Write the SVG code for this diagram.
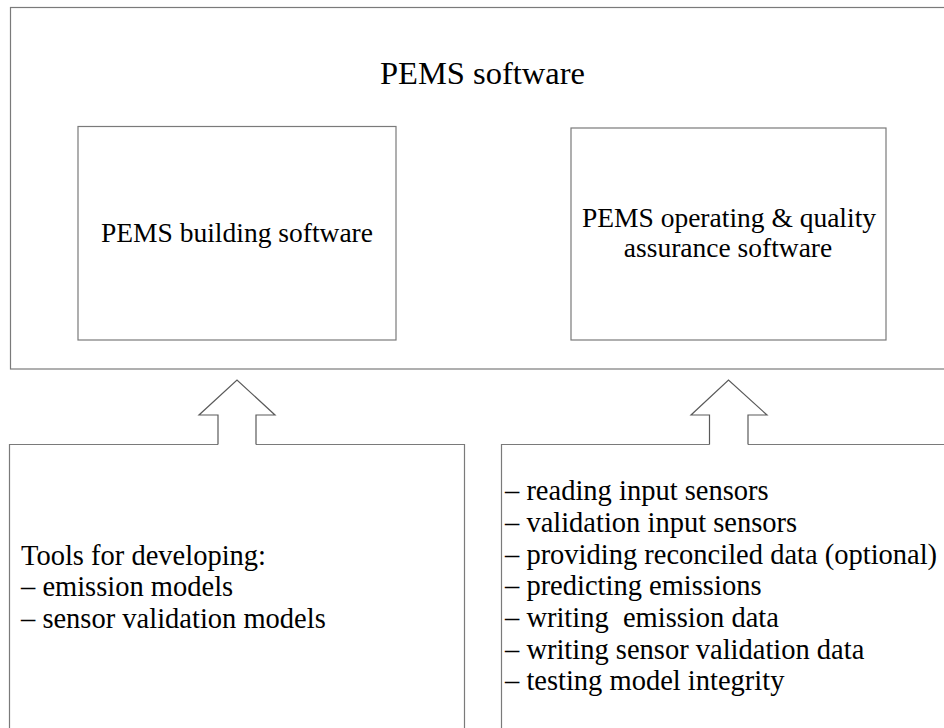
<svg xmlns="http://www.w3.org/2000/svg" width="944" height="728" viewBox="0 0 944 728">
<style>
.box{fill:none;stroke:#7a7a7a;stroke-width:1.2}
.arrow{fill:none;stroke:#5a5a5a;stroke-width:1.2;stroke-linejoin:miter}
.c{text-anchor:middle}
.t{font-size:32.5px}
.m{font-size:27.5px}
.l{font-size:28.5px}
</style>
<rect width="944" height="728" fill="#fff"/>
<g font-family="'Liberation Serif', serif" fill="#000">
<g id="pems-software">
<rect class="box" x="10.5" y="7.5" width="945" height="361.5"/>
<text class="c t" x="482.5" y="84.3">PEMS software</text>
</g>
<g id="building-software">
<rect class="box" x="78" y="126.5" width="318" height="213.5"/>
<text class="c m" x="237" y="241.7">PEMS building software</text>
</g>
<g id="operating-software">
<rect class="box" x="571" y="128" width="315" height="212"/>
<text class="c m" x="729" y="226.7">PEMS operating &amp; quality</text>
<text class="c m" x="728" y="256.7">assurance software</text>
</g>
<g id="tools-box">
<path class="box" d="M218 444.5 H9.5 V740 M464.5 740 V444.5 H256"/>
<text class="l" x="21" y="565">Tools for developing:</text>
<text class="l" x="21" y="596">– emission models</text>
<text class="l" x="21" y="628">– sensor validation models</text>
</g>
<g id="operations-box">
<path class="box" d="M709.5 444.5 H501.5 V740 M748 444.5 H955"/>
<text class="l" x="505" y="500">– reading input sensors</text>
<text class="l" x="505" y="532">– validation input sensors</text>
<text class="l" x="505" y="563.5">– providing reconciled data (optional)</text>
<text class="l" x="505" y="595">– predicting emissions</text>
<text class="l" x="505" y="627" xml:space="preserve">– writing  emission data</text>
<text class="l" x="505" y="658.5">– writing sensor validation data</text>
<text class="l" x="505" y="690">– testing model integrity</text>
</g>
</g>
<g id="connectors">
<polyline class="arrow" points="218,444.5 218,415 199,415 237,380 275,415 256,415 256,444.5"/>
<polyline class="arrow" points="709.5,444.5 709.5,415 691,415 728.5,380 767,415 748,415 748,444.5"/>
</g>
</svg>
